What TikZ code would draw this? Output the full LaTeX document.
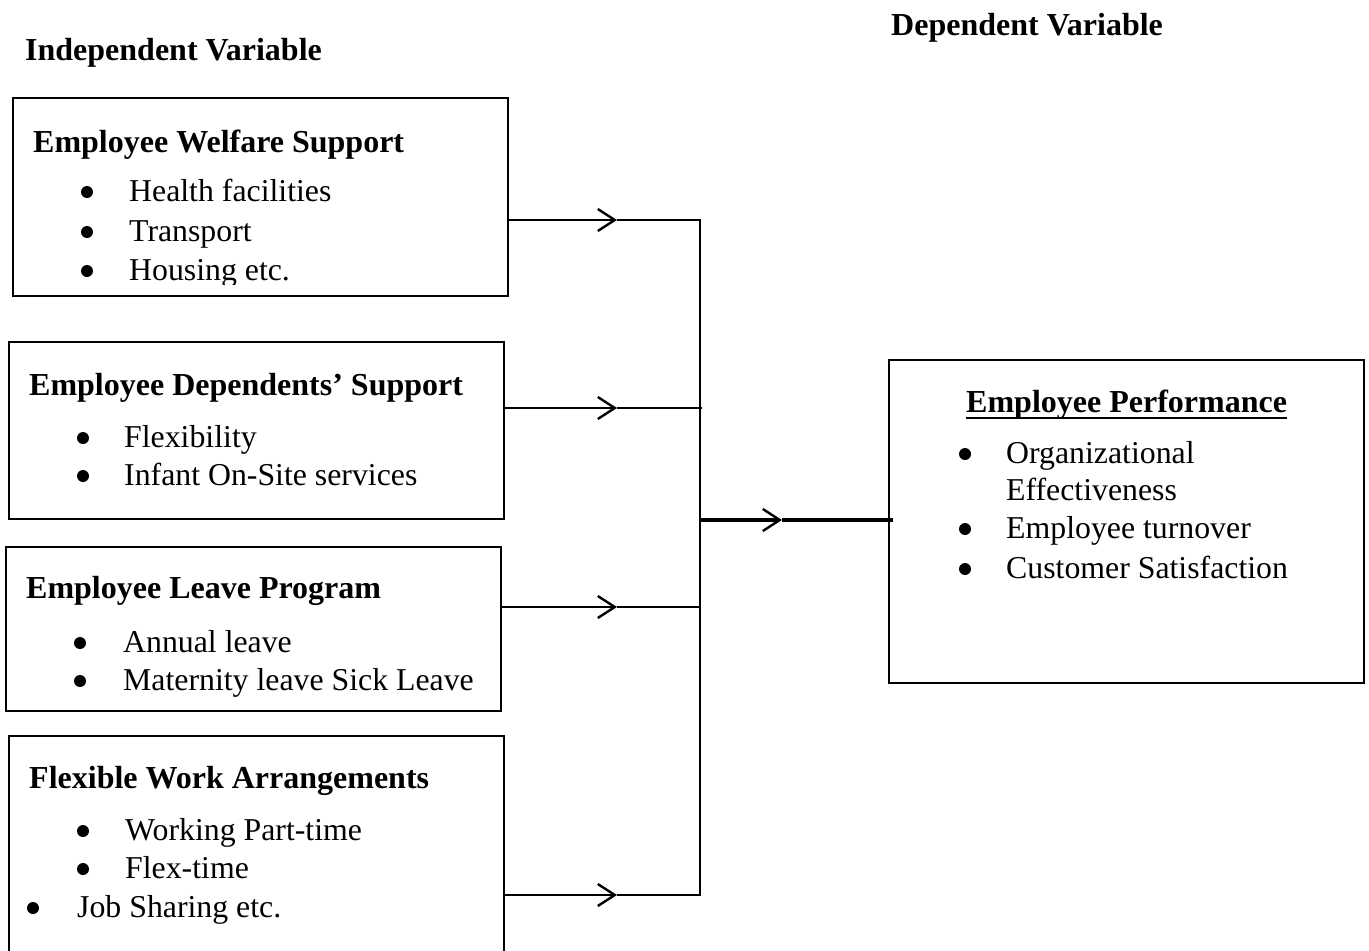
\documentclass[tikz,border=0pt]{standalone}
\usepackage{fontspec}
\setmainfont{Liberation Serif}
\usetikzlibrary{arrows.meta,calc}
\begin{document}
\begin{tikzpicture}[x=1pt,y=-1pt,
  box/.style={draw, line width=2.4pt, inner sep=0pt, anchor=north west},
  txt/.style={inner sep=0pt, anchor=base west, font=\fontsize{31.8}{40}\selectfont},
  head/.style={inner sep=0pt, anchor=base west, font=\fontsize{32}{40}\selectfont\bfseries},
  dot/.style={circle, fill, inner sep=0pt, minimum size=12pt},
  link/.style={line width=2.4pt},
  barb/.style={-{Straight Barb[length=17pt,width=22pt,line width=2.4pt]}}
]
\clip (0,0) rectangle (1369,951);

% column headings
\node[head] (hind) at (25,60) {Independent Variable};
\node[head] (hdep) at (891,35) {Dependent Variable};

% boxes
\node[box, minimum width=495pt, minimum height=198pt] (b1) at (12,97) {};
\node[box, minimum width=495pt, minimum height=177pt] (b2) at (8,341) {};
\node[box, minimum width=495pt, minimum height=164pt] (b3) at (5,546) {};
\node[box, minimum width=495pt, minimum height=260pt] (b4) at (8,735) {};
\node[box, minimum width=475pt, minimum height=323pt] (b5) at (888,359) {};

% Employee Welfare Support
\node[head] (t1) at (33,152) {Employee Welfare Support};
\node[dot] (d11) at (87,192) {};
\node[txt] (i11) at (129,201) {Health facilities};
\node[dot] (d12) at (87,232) {};
\node[txt] (i12) at (129,241) {Transport};
\node[dot] (d13) at (87,271) {};
\begin{scope}
  \clip (12,97) rectangle (507,284);
  \node[txt] (i13) at (129,280) {Housing etc.};
\end{scope}

% Employee Dependents' Support
\node[head] (t2) at (29,395) {Employee Dependents’ Support};
\node[dot] (d21) at (83,438) {};
\node[txt] (i21) at (124,447) {Flexibility};
\node[dot] (d22) at (83,476) {};
\node[txt] (i22) at (124,485) {Infant On-Site services};

% Employee Leave Program
\node[head] (t3) at (26,598) {Employee Leave Program};
\node[dot] (d31) at (80,643) {};
\node[txt] (i31) at (123,652) {Annual leave};
\node[dot] (d32) at (80,681) {};
\node[txt] (i32) at (123,690) {Maternity leave Sick Leave};

% Flexible Work Arrangements
\node[head] (t4) at (29,788) {Flexible Work Arrangements};
\node[dot] (d41) at (83,831) {};
\node[txt] (i41) at (125,840) {Working Part-time};
\node[dot] (d42) at (83,869) {};
\node[txt] (i42) at (125,878) {Flex-time};
\node[dot] (d43) at (33,908) {};
\node[txt] (i43) at (77,917) {Job Sharing etc.};

% Employee Performance
\node[head] (t5) at (966,412) {Employee Performance};
\draw[line width=2.6pt] ($(t5.base west)+(0,6)$) -- ($(t5.base east)+(0,6)$);
\node[dot] (d51) at (965,454) {};
\node[txt] (i51) at (1006,463) {Organizational};
\node[txt] (i52) at (1006,500) {Effectiveness};
\node[dot] (d53) at (965,529) {};
\node[txt] (i53) at (1006,538) {Employee turnover};
\node[dot] (d54) at (965,569) {};
\node[txt] (i54) at (1006,578) {Customer Satisfaction};

% connectors
\coordinate (a1) at (617,220);
\coordinate (a2) at (617,408);
\coordinate (a3) at (617,607);
\coordinate (a4) at (617,895);
\coordinate (j1) at (700,220);
\coordinate (j2) at (702,408);
\coordinate (j3) at (700,607);
\coordinate (j4) at (700,895);
\coordinate (jm) at (700,520);
\coordinate (am) at (782,520);
\coordinate (e5) at (893,520);

\draw[link,barb] (b1.east |- a1) -- (a1);
\draw[link,barb] (b2.east |- a2) -- (a2);
\draw[link,barb] (b3.east |- a3) -- (a3);
\draw[link,barb] (b4.east |- a4) -- (a4);
\draw[line width=2pt] (a1) -- (j1) -- (j4) -- (a4);
\draw[line width=2pt] (a2) -- (j2);
\draw[line width=2pt] (a3) -- (j3);
\draw[line width=3.2pt,barb] (jm) -- (am);
\draw[line width=3.2pt] (am) -- (e5);
\end{tikzpicture}
\end{document}
